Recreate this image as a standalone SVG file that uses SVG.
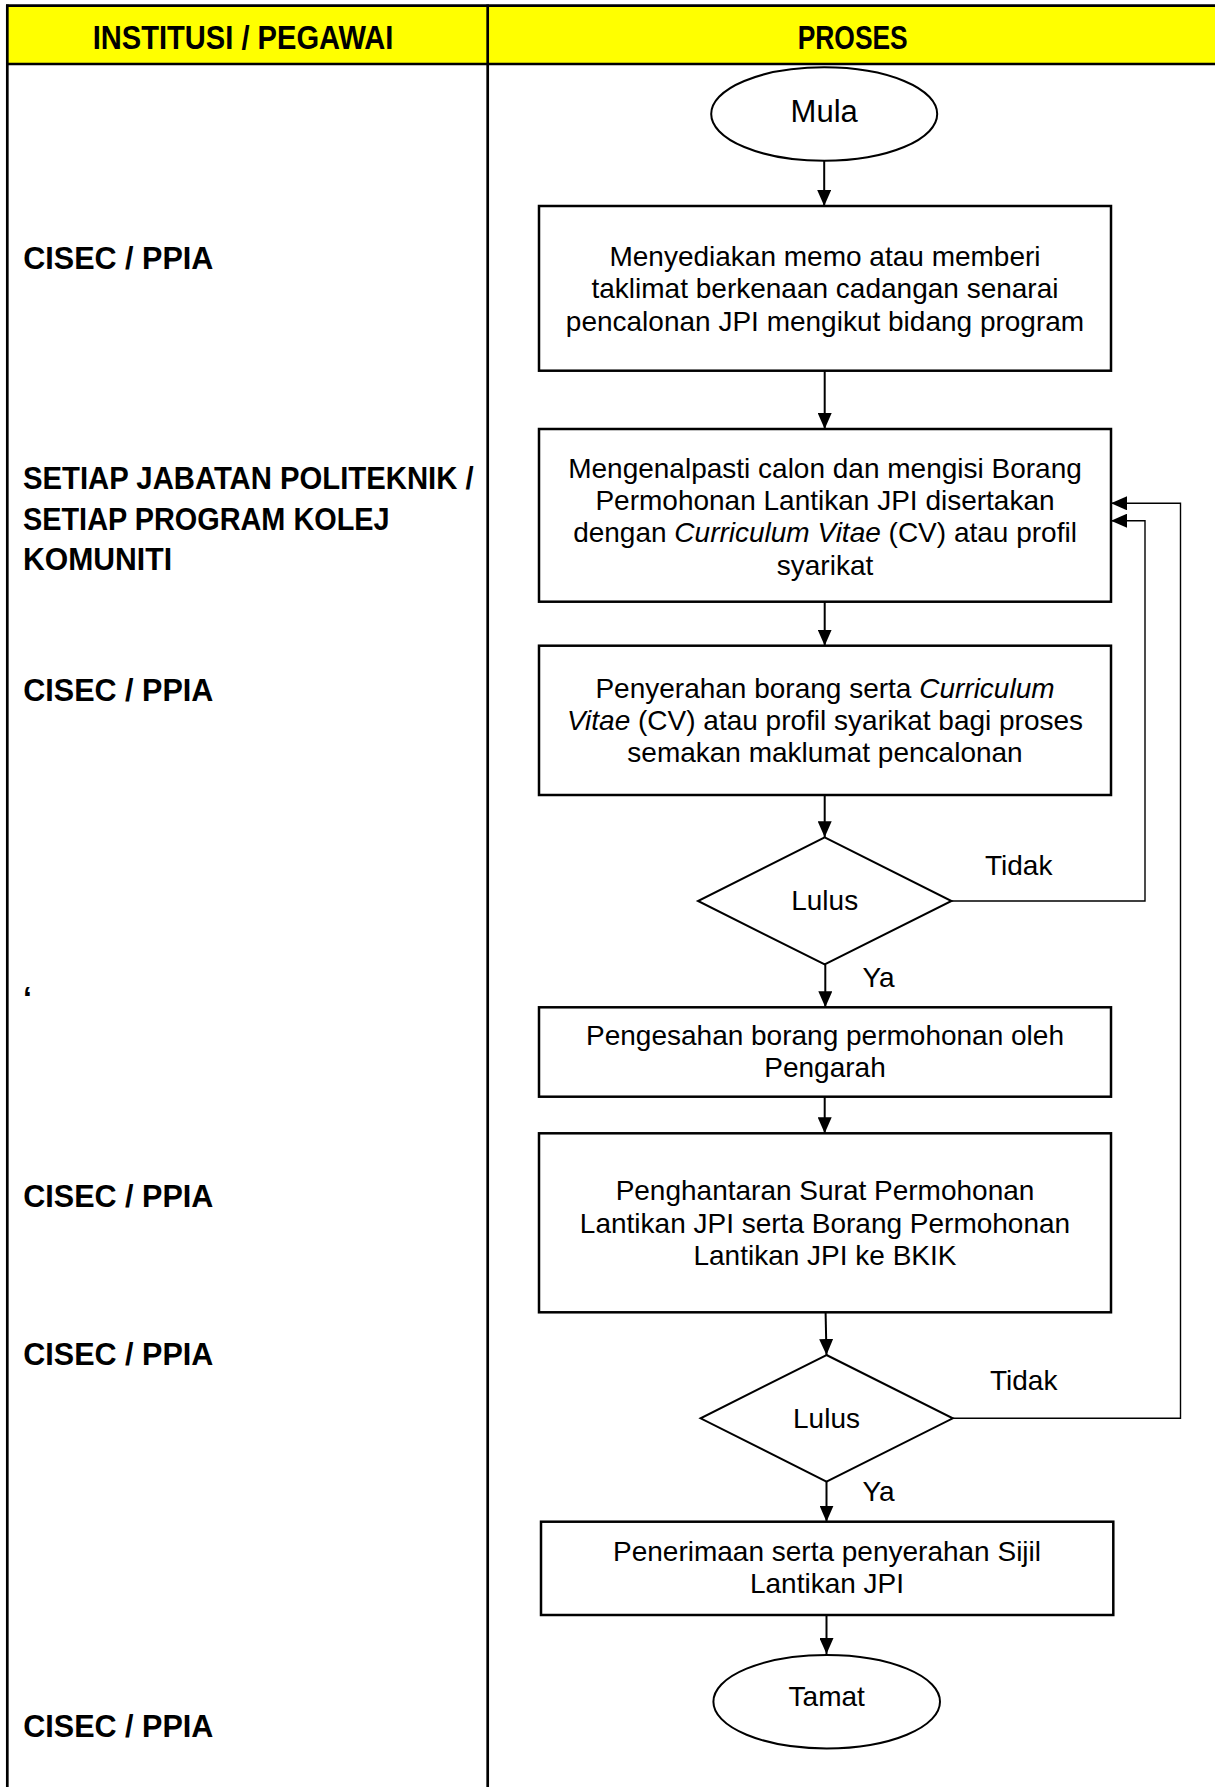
<svg xmlns="http://www.w3.org/2000/svg" width="1215" height="1787" viewBox="0 0 1215 1787">
<style>
.tbl{stroke:#000;stroke-width:2.7;fill:none}
.hdr{font-family:"Liberation Sans",Arial,sans-serif;font-weight:bold;font-size:33px;fill:#000}
.lane{font-family:"Liberation Sans",Arial,sans-serif;font-weight:bold;font-size:32px;fill:#000}
.box{fill:#fff;stroke:#000;stroke-width:2.5}
.shape{fill:#fff;stroke:#000;stroke-width:2}
.t{font-family:"Liberation Sans",Arial,sans-serif;font-size:28px;fill:#000;text-anchor:middle}
.lbl{font-family:"Liberation Sans",Arial,sans-serif;font-size:28px;fill:#000}
.main{stroke:#000;stroke-width:2;fill:none}
.loop{stroke:#000;stroke-width:1.4;fill:none}
.i{font-style:italic}
</style>
<defs>
<marker id="arr" markerUnits="userSpaceOnUse" markerWidth="16" markerHeight="14" refX="16" refY="7" orient="auto">
<path d="M0,0 L16,7 L0,14 z" fill="#000"/>
</marker>
</defs>
<g id="table">
<rect x="7.3" y="5.7" width="1210" height="58.3" fill="#ffff00"/>
<line class="tbl" x1="6" y1="5.7" x2="1215" y2="5.7"/>
<line class="tbl" x1="6" y1="64" x2="1215" y2="64"/>
<line class="tbl" x1="7.3" y1="4.5" x2="7.3" y2="1787"/>
<line class="tbl" x1="487.7" y1="4.5" x2="487.7" y2="1787"/>
<text class="hdr" x="92.7" y="49" textLength="300.7" lengthAdjust="spacingAndGlyphs">INSTITUSI / PEGAWAI</text>
<text class="hdr" x="797.7" y="49" textLength="110" lengthAdjust="spacingAndGlyphs">PROSES</text>
</g>
<g id="lanes">
<text class="lane" x="23.3" y="269" textLength="190" lengthAdjust="spacingAndGlyphs">CISEC / PPIA</text>
<text class="lane" x="23" y="489.2" textLength="450.6" lengthAdjust="spacingAndGlyphs">SETIAP JABATAN POLITEKNIK /</text>
<text class="lane" x="23" y="530" textLength="366.6" lengthAdjust="spacingAndGlyphs">SETIAP PROGRAM KOLEJ</text>
<text class="lane" x="23" y="569.6" textLength="149" lengthAdjust="spacingAndGlyphs">KOMUNITI</text>
<text class="lane" x="23.3" y="700.5" textLength="190" lengthAdjust="spacingAndGlyphs">CISEC / PPIA</text>
<text class="lane" x="23" y="1009">‘</text>
<text class="lane" x="23.3" y="1207.3" textLength="190" lengthAdjust="spacingAndGlyphs">CISEC / PPIA</text>
<text class="lane" x="23.3" y="1365" textLength="190" lengthAdjust="spacingAndGlyphs">CISEC / PPIA</text>
<text class="lane" x="23.3" y="1737.3" textLength="190" lengthAdjust="spacingAndGlyphs">CISEC / PPIA</text>
</g>
<g id="connectors">
<line class="main" x1="824.2" y1="160.7" x2="824.2" y2="206" marker-end="url(#arr)"/>
<line class="main" x1="824.7" y1="370.7" x2="824.7" y2="429" marker-end="url(#arr)"/>
<line class="main" x1="824.7" y1="601.7" x2="824.7" y2="645.7" marker-end="url(#arr)"/>
<line class="main" x1="824.7" y1="795" x2="824.7" y2="837.3" marker-end="url(#arr)"/>
<line class="main" x1="825.3" y1="964.5" x2="825.3" y2="1007.3" marker-end="url(#arr)"/>
<line class="main" x1="824.7" y1="1096.7" x2="824.7" y2="1133.3" marker-end="url(#arr)"/>
<line class="main" x1="825.6" y1="1312.3" x2="826.5" y2="1355" marker-end="url(#arr)"/>
<line class="main" x1="826.5" y1="1481.7" x2="826.5" y2="1521.7" marker-end="url(#arr)"/>
<line class="main" x1="826.5" y1="1615" x2="826.5" y2="1654" marker-end="url(#arr)"/>
<polyline class="loop" points="951.5,901 1145,901 1145,520.7 1111,520.7" marker-end="url(#arr)"/>
<polyline class="loop" points="952.8,1418.3 1180.5,1418.3 1180.5,503.3 1111,503.3" marker-end="url(#arr)"/>
<text class="lbl" x="985" y="875">Tidak</text>
<text class="lbl" x="862.5" y="986.7">Ya</text>
<text class="lbl" x="990" y="1390">Tidak</text>
<text class="lbl" x="862.5" y="1500.7">Ya</text>
</g>
<g id="mula">
<ellipse class="shape" cx="824.2" cy="114" rx="113" ry="46.7"/>
<text class="t" x="824.2" y="122" style="font-size:31px">Mula</text>
</g>
<g id="step1">
<rect class="box" x="539" y="206" width="572" height="164.7"/>
<text class="t" x="825" y="266">Menyediakan memo atau memberi</text>
<text class="t" x="825" y="298.3">taklimat berkenaan cadangan senarai</text>
<text class="t" x="825" y="330.7">pencalonan JPI mengikut bidang program</text>
</g>
<g id="step2">
<rect class="box" x="539" y="429" width="572" height="172.7"/>
<text class="t" x="825" y="477.7">Mengenalpasti calon dan mengisi Borang</text>
<text class="t" x="825" y="510">Permohonan Lantikan JPI disertakan</text>
<text class="t" x="825" y="542.3">dengan <tspan class="i">Curriculum Vitae</tspan> (CV) atau profil</text>
<text class="t" x="825" y="574.5">syarikat</text>
</g>
<g id="step3">
<rect class="box" x="539" y="645.7" width="572" height="149.3"/>
<text class="t" x="825" y="697.7">Penyerahan borang serta <tspan class="i">Curriculum</tspan></text>
<text class="t" x="825" y="729.8"><tspan class="i">Vitae</tspan> (CV) atau profil syarikat bagi proses</text>
<text class="t" x="825" y="762">semakan maklumat pencalonan</text>
</g>
<g id="decision1">
<polygon class="shape" points="824.7,837.3 951.5,901 824.7,964.5 698,901"/>
<text class="t" x="824.7" y="910">Lulus</text>
</g>
<g id="step4">
<rect class="box" x="539" y="1007.3" width="572" height="89.4"/>
<text class="t" x="825" y="1045">Pengesahan borang permohonan oleh</text>
<text class="t" x="825" y="1077.3">Pengarah</text>
</g>
<g id="step5">
<rect class="box" x="539" y="1133.3" width="572" height="179"/>
<text class="t" x="825" y="1200">Penghantaran Surat Permohonan</text>
<text class="t" x="825" y="1232.7">Lantikan JPI serta Borang Permohonan</text>
<text class="t" x="825" y="1265">Lantikan JPI ke BKIK</text>
</g>
<g id="decision2">
<polygon class="shape" points="826.5,1355 952.8,1418.3 826.5,1481.7 700.6,1418.3"/>
<text class="t" x="826.5" y="1428.3">Lulus</text>
</g>
<g id="step6">
<rect class="box" x="541" y="1521.7" width="572.3" height="93.3"/>
<text class="t" x="827" y="1561">Penerimaan serta penyerahan Sijil</text>
<text class="t" x="827" y="1593.3">Lantikan JPI</text>
</g>
<g id="tamat">
<ellipse class="shape" cx="826.7" cy="1701.7" rx="113.3" ry="46.7"/>
<text class="t" x="826.7" y="1706">Tamat</text>
</g>
</svg>
